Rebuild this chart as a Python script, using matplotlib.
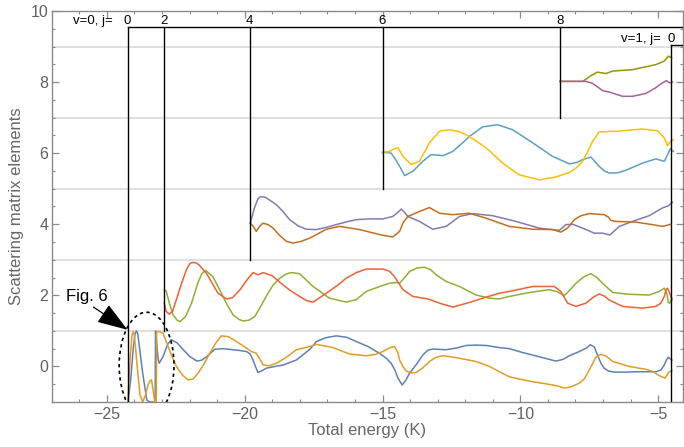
import matplotlib
matplotlib.use("Agg")
import matplotlib.pyplot as plt
from matplotlib.patches import Ellipse
from matplotlib.ticker import MultipleLocator

plt.rcParams['font.family'] = ['Liberation Sans', 'DejaVu Sans']

# ---- data ----
# pair v=0, j=0 (offset 0)
p1a_x = [-24.24, -24.14, -24.04, -23.98, -23.93, -23.88, -23.82, -23.70, -23.55, -23.45, -23.30, -23.25, -23.236,
         -23.20, -23.14, -23.10, -22.95, -22.80, -22.66, -22.45, -22.23, -21.98, -21.73, -21.55,
         -21.39, -21.09, -20.80, -20.54, -20.20, -19.94, -19.80, -19.70, -19.60, -19.52, -19.40,
         -19.22, -18.90, -18.61, -18.13, -17.64, -17.40, -17.05, -16.68, -16.30, -15.95, -15.50,
         -15.11, -14.85, -14.69, -14.55, -14.44, -14.29, -14.15, -14.02, -13.75, -13.54, -13.35,
         -13.18, -12.69, -12.30, -11.97, -11.60, -11.24, -10.76, -10.40, -9.91, -9.30, -8.71,
         -8.45, -8.22, -7.86, -7.60, -7.46, -7.32, -7.20, -7.08, -6.96, -6.80, -6.59, -6.20,
         -5.81, -5.40, -5.08, -4.90, -4.78, -4.70, -4.64, -4.57, -4.50]
p1a_y = [-1.00, -0.40, 0.55, 0.92, 1.00, 0.92, 0.55, -0.20, -0.95, -1.00, -1.00, -1.00, 1.00,
         0.70, 0.20, 0.09, 0.30, 0.62, 0.75, 0.66, 0.47, 0.27, 0.15, 0.18,
         0.27, 0.48, 0.50, 0.48, 0.45, 0.42, 0.35, 0.18, -0.02, -0.17, -0.13,
         -0.05, 0.00, 0.04, 0.18, 0.48, 0.70, 0.81, 0.86, 0.82, 0.70, 0.55,
         0.37, 0.22, 0.09, -0.10, -0.33, -0.52, -0.38, -0.19, 0.08, 0.32, 0.46,
         0.49, 0.47, 0.52, 0.59, 0.60, 0.59, 0.53, 0.50, 0.39, 0.27, 0.15,
         0.20, 0.30, 0.42, 0.52, 0.61, 0.55, 0.32, 0.10, -0.05, -0.13, -0.16, -0.16,
         -0.15, -0.15, -0.15, -0.10, 0.04, 0.18, 0.26, 0.22, 0.18]

p1b_x = [-24.24, -24.16, -24.09, -24.045, -24.00, -23.90, -23.80, -23.70, -23.60, -23.50, -23.43,
         -23.38, -23.32, -23.26, -23.21, -23.195, -23.10, -22.96, -22.78, -22.62, -22.48, -22.25,
         -22.05, -21.87, -21.69, -21.47, -21.27, -21.05, -20.85, -20.60, -20.30, -20.00, -19.76,
         -19.58, -19.45, -19.33, -19.10, -18.85, -18.50, -18.13, -17.64, -17.40, -16.80, -16.20,
         -15.59, -15.25, -14.99, -14.75, -14.57, -14.45, -14.38, -14.26, -14.14, -13.95, -13.78,
         -13.55, -13.30, -13.05, -12.81, -12.50, -12.21, -11.61, -11.12, -10.76, -10.40, -9.95,
         -9.55, -8.83, -8.60, -8.41, -8.15, -7.86, -7.68, -7.50, -7.35, -7.26, -7.08, -6.90,
         -6.65, -6.05, -5.45, -5.20, -4.96, -4.75, -4.66, -4.60, -4.50]
p1b_y = [-1.00, 0.20, 0.88, 0.98, 0.85, 0.00, -0.80, -1.00, -0.80, -0.50, -0.40,
         -0.38, -0.70, -1.00, -1.00, 0.98, 0.98, 0.93, 0.56, 0.25, 0.00, -0.25,
         -0.38, -0.35, -0.19, 0.08, 0.37, 0.66, 0.86, 0.84, 0.70, 0.55, 0.42,
         0.37, 0.20, 0.04, 0.02, 0.09, 0.25, 0.47, 0.56, 0.62, 0.53, 0.35,
         0.30, 0.34, 0.42, 0.52, 0.56, 0.40, 0.18, 0.00, -0.13, -0.18, -0.17,
         -0.05, 0.14, 0.26, 0.30, 0.27, 0.23, 0.14, 0.00, -0.15, -0.29, -0.37,
         -0.43, -0.52, -0.56, -0.61, -0.57, -0.47, -0.35, -0.10, 0.12, 0.26, 0.34, 0.30,
         0.14, 0.00, -0.08, -0.14, -0.26, -0.33, -0.22, -0.15, -0.12]

# pair v=0, j=2 (offset 2)
p2a_x = [-22.92, -22.85, -22.74, -22.60, -22.45, -22.35, -22.15, -21.93, -21.70, -21.55, -21.41, -21.15, -20.91,
         -20.65, -20.42, -20.20, -20.06, -19.85, -19.64, -19.45, -19.22, -18.98, -18.73, -18.50,
         -18.31, -18.01, -17.52, -16.92, -16.32, -15.95, -15.59, -15.10, -14.75, -14.50, -14.38,
         -14.20, -14.02, -13.75, -13.48, -13.25, -13.06, -12.69, -12.21, -11.61, -11.12, -10.76,
         -10.40, -9.67, -8.95, -8.65, -8.41, -8.20, -7.98, -7.70, -7.44, -7.22, -7.02, -6.65,
         -6.05, -5.32, -4.96, -4.78, -4.69, -4.63, -4.58, -4.50]
p2a_y = [2.16, 2.12, 1.80, 1.45, 1.30, 1.26, 1.40, 1.78, 2.35, 2.62, 2.70, 2.52, 2.16,
         1.75, 1.45, 1.32, 1.28, 1.30, 1.40, 1.65, 1.97, 2.28, 2.48, 2.60,
         2.64, 2.61, 2.25, 1.92, 1.81, 1.88, 2.11, 2.25, 2.34, 2.36, 2.34,
         2.50, 2.67, 2.77, 2.79, 2.72, 2.58, 2.39, 2.25, 2.01, 1.92, 1.90,
         1.97, 2.08, 2.16, 2.10, 1.99, 2.15, 2.34, 2.52, 2.61, 2.50, 2.34, 2.08,
         2.03, 2.01, 2.11, 2.20, 2.06, 1.80, 1.78, 1.92]

p2b_x = [-22.92, -22.85, -22.74, -22.62, -22.45, -22.29, -22.10, -21.98, -21.87, -21.75, -21.65, -21.39, -21.15,
         -20.97, -20.66, -20.45, -20.18, -19.90, -19.70, -19.52, -19.33, -19.00, -18.70, -18.37,
         -18.01, -17.75, -17.52, -17.04, -16.60, -16.32, -15.95, -15.59, -14.99, -14.75, -14.57,
         -14.40, -14.26, -13.90, -13.36, -12.93, -12.45, -11.85, -11.24, -10.76, -10.40, -9.55,
         -8.77, -8.53, -8.285, -7.98, -7.62, -7.35, -7.14, -6.95, -6.78, -6.29, -5.57, -5.08,
         -4.90, -4.78, -4.70, -4.66, -4.58, -4.50]
p2b_y = [1.78, 1.55, 1.47, 1.55, 1.95, 2.34, 2.75, 2.90, 2.93, 2.91, 2.85, 2.62, 2.30,
         2.06, 1.90, 1.93, 2.15, 2.45, 2.64, 2.58, 2.64, 2.55, 2.35, 2.15,
         1.97, 1.85, 1.81, 2.06, 2.30, 2.48, 2.64, 2.74, 2.74, 2.68, 2.53,
         2.33, 2.16, 1.97, 1.90, 1.78, 1.67, 1.80, 1.95, 2.06, 2.11, 2.25,
         2.25, 2.11, 1.78, 1.69, 1.78, 1.95, 2.04, 1.98, 1.87, 1.69, 1.64, 1.69,
         1.78, 1.97, 2.18, 2.20, 2.06, 1.87]

# pair v=0, j=4 (offset 4)
p3a_x = [-19.80, -19.65, -19.52, -19.43, -19.30, -19.21, -18.85, -18.60, -18.37, -18.05, -17.77, -17.40,
         -17.00, -16.68, -16.30, -15.95, -15.50, -14.99, -14.63, -14.45, -14.32, -14.20, -14.08,
         -13.66, -13.18, -12.69, -12.21, -11.73, -11.00, -10.16, -9.31, -8.59, -8.45, -8.35,
         -8.10, -7.74, -7.32, -7.02, -6.75, -6.41, -5.93, -5.33, -4.84, -4.63, -4.48]
p3a_y = [4.03, 4.45, 4.72, 4.77, 4.77, 4.74, 4.55, 4.35, 4.13, 3.95, 3.86, 3.85,
         3.92, 3.99, 4.07, 4.13, 4.15, 4.15, 4.22, 4.33, 4.43, 4.33, 4.22,
         4.08, 3.86, 3.94, 4.22, 4.30, 4.24, 4.08, 3.89, 3.83, 3.92, 3.99,
         4.00, 3.89, 3.75, 3.75, 3.70, 3.94, 4.08, 4.24, 4.46, 4.52, 4.62]

p3b_x = [-19.80, -19.70, -19.58, -19.45, -19.34, -19.15, -18.97, -18.75, -18.49, -18.25, -17.95,
         -17.64, -17.35, -17.04, -16.56, -15.83, -15.11, -14.63, -14.38, -14.25, -14.08, -13.66,
         -13.30, -12.93, -12.45, -11.85, -11.24, -10.40, -9.55, -8.83, -8.53, -8.29, -8.04,
         -7.80, -7.50, -6.96, -6.80, -6.72, -6.53, -5.81, -5.21, -4.84, -4.54]
p3b_y = [4.03, 3.95, 3.80, 3.95, 4.03, 3.99, 3.89, 3.70, 3.52, 3.47, 3.52,
         3.61, 3.73, 3.86, 3.94, 3.85, 3.71, 3.64, 3.80, 4.05, 4.22, 4.36,
         4.47, 4.31, 4.27, 4.31, 4.17, 3.94, 3.86, 3.85, 3.78, 3.89, 4.13,
         4.24, 4.30, 4.27, 4.20, 4.11, 4.08, 4.06, 3.99, 3.94, 4.00]

# pair v=0, j=6 (offset 6)
p4a_x = [-15.01, -14.85, -14.69, -14.55, -14.38, -14.20, -13.90, -13.54, -13.24, -12.81, -12.45,
         -12.15, -11.85, -11.37, -10.82, -10.28, -9.55, -8.83, -8.22, -7.94, -7.74, -7.44,
         -7.14, -6.95, -6.77, -6.45, -6.17, -5.57, -5.08, -4.78, -4.66, -4.56, -4.45]
p4a_y = [6.02, 6.02, 6.00, 5.85, 5.63, 5.37, 5.49, 5.77, 5.96, 5.93, 6.05,
         6.25, 6.47, 6.74, 6.80, 6.66, 6.29, 5.91, 5.70, 5.74, 5.82, 5.89,
         5.63, 5.50, 5.44, 5.45, 5.52, 5.72, 5.84, 5.77, 5.96, 6.12, 6.05]

p4b_x = [-15.01, -14.75, -14.58, -14.44, -14.26, -13.96, -13.66, -13.50, -13.30, -12.93, -12.57,
         -12.20, -11.85, -11.24, -10.64, -10.04, -9.31, -8.71, -8.22, -7.95, -7.74, -7.55,
         -7.38, -7.14, -6.41, -5.57, -5.02, -4.78, -4.66, -4.54, -4.45]
p4b_y = [6.02, 6.05, 6.12, 6.15, 5.91, 5.68, 5.77, 6.00, 6.29, 6.62, 6.66,
         6.60, 6.47, 6.15, 5.72, 5.39, 5.25, 5.33, 5.46, 5.60, 5.77, 6.05,
         6.33, 6.60, 6.62, 6.68, 6.63, 6.43, 6.21, 6.33, 6.38]

# pair v=0, j=8 (offset 8)
p5a_x = [-8.56, -7.74, -7.55, -7.44, -7.20, -6.90, -6.65, -5.93, -5.09, -4.78, -4.63, -4.51]
p5a_y = [8.02, 8.02, 8.12, 8.18, 8.28, 8.24, 8.31, 8.35, 8.49, 8.59, 8.73, 8.68]

p5b_x = [-8.56, -7.62, -7.40, -7.26, -7.02, -6.78, -6.29, -5.93, -5.45, -5.09, -4.84, -4.70, -4.60, -4.48]
p5b_y = [8.02, 8.02, 7.97, 7.90, 7.76, 7.72, 7.60, 7.60, 7.68, 7.84, 7.98, 8.04, 7.98, 8.00]

series = [
    (p1a_x, p1a_y, '#5E81B5'),
    (p1b_x, p1b_y, '#E19C24'),
    (p2a_x, p2a_y, '#8FB032'),
    (p2b_x, p2b_y, '#EB6235'),
    (p3a_x, p3a_y, '#8778B3'),
    (p3b_x, p3b_y, '#C56E1A'),
    (p4a_x, p4a_y, '#5D9EC7'),
    (p4b_x, p4b_y, '#FFBF00'),
    (p5a_x, p5a_y, '#929600'),
    (p5b_x, p5b_y, '#A5609D'),
]

# thresholds
v0_j = ['0', '2', '4', '6', '8']
v0_e = [-24.25, -22.93, -19.82, -15.0, -8.56]
v0_bottom = [-1.0, 1.0, 3.0, 5.0, 7.0]
v1_j = ['0']
v1_e = [-4.52]

grid_y = [1, 3, 5, 7, 9]

# ---- figure ----
fig = plt.figure(figsize=(6.84, 4.47), dpi=100)
ax = fig.add_axes([0.0757, 0.1007, 0.9228, 0.8747])
xmin, xmax = -27.0, -4.1
ax.set_xlim(xmin, xmax)
ax.set_ylim(-1, 10)

for gy in grid_y:
    ax.axhline(gy, color='#dcdcdc', lw=1.3, zorder=0)

for x, y, c in series:
    ax.plot(x, y, color=c, lw=1.1, zorder=3, clip_on=True, solid_joinstyle='round')

# threshold bracket lines
top0 = 9.55
ax.plot([v0_e[0], xmax], [top0, top0], color='black', lw=1.0, zorder=4)
for e, b, lab in zip(v0_e, v0_bottom, v0_j):
    ax.plot([e, e], [b, top0], color='black', lw=1.0, zorder=4)
    ax.text(e, 9.72, lab, ha='center', va='center', fontsize=9.5, color='black')
ax.text(-24.78, 9.72, 'v=0, j=', ha='right', va='center', fontsize=9.5, color='black')

top1 = 9.05
ax.plot([v1_e[0], xmax], [top1, top1], color='black', lw=1.0, zorder=4)
ax.plot([v1_e[0], v1_e[0]], [-1, top1], color='black', lw=1.0, zorder=4)
ax.text(v1_e[0], 9.22, v1_j[0], ha='center', va='center', fontsize=9.5, color='black')
ax.text(-4.90, 9.22, 'v=1, j=', ha='right', va='center', fontsize=9.5, color='black')

# Fig. 6 annotation
ax.add_patch(Ellipse((-23.56, 0.03), 1.99, 2.99, fill=False, ls=(0, (2, 2)),
                     lw=1.2, color='black', zorder=5))
ax.annotate('Fig. 6', xy=(-24.25, 1.03), xytext=(-26.47, 1.96),
            fontsize=12, ha='left', va='center', zorder=6,
            arrowprops=dict(arrowstyle='-|>,head_length=1.6,head_width=0.55',
                            color='black', lw=0.9, shrinkA=0, shrinkB=0,
                            relpos=(0.55, 0.0)))

# axes styling
for s in ax.spines.values():
    s.set_color('#8a8a8a')
    s.set_linewidth(1.0)
ax.xaxis.set_major_locator(MultipleLocator(5))
ax.xaxis.set_minor_locator(MultipleLocator(1))
ax.yaxis.set_major_locator(MultipleLocator(2))
ax.yaxis.set_minor_locator(MultipleLocator(0.5))
ax.tick_params(which='both', direction='in', top=True, right=True, color='#8a8a8a',
               labelcolor='#606060', labelsize=11.5)
ax.tick_params(axis='y', which='both', pad=2.5)
ax.tick_params(which='major', length=5, width=0.9)
ax.tick_params(which='minor', length=2.5, width=0.8)
ax.set_xlabel('Total energy (K)', fontsize=12, color='#666666', labelpad=1)
ax.set_ylabel('Scattering matrix elements', fontsize=12, color='#666666', labelpad=5)

fig.savefig('out.png', dpi=100)
